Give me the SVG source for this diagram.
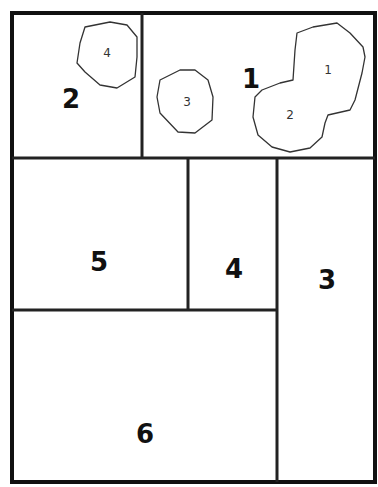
<svg xmlns="http://www.w3.org/2000/svg" width="378" height="487" viewBox="0 0 378 487">
<style>
.frame{fill:none;stroke:#111;stroke-width:4}
.div{fill:none;stroke:#222;stroke-width:3}
.blob{fill:#fff;stroke:#333;stroke-width:1.3;stroke-linejoin:round}
.big{font-family:"DejaVu Sans","Liberation Sans",sans-serif;font-weight:bold;font-size:26px;fill:#111;text-anchor:middle;dominant-baseline:central}
.small{font-family:"DejaVu Sans","Liberation Sans",sans-serif;font-size:12px;fill:#333;text-anchor:middle;dominant-baseline:central}
</style>
<rect width="378" height="487" fill="#fff"/>
<g id="frame">
<rect class="frame" x="12" y="13" width="363" height="469"/>
</g>
<g id="connectors">
<line class="div" x1="12" y1="158" x2="375" y2="158"/>
<line class="div" x1="142" y1="13" x2="142" y2="158"/>
<line class="div" x1="188" y1="158" x2="188" y2="310"/>
<line class="div" x1="277" y1="158" x2="277" y2="482"/>
<line class="div" x1="12" y1="310" x2="277" y2="310"/>
</g>
<g id="region-2">
<text class="big" x="71" y="99">2</text>
</g>
<g id="region-1">
<text class="big" x="251" y="79">1</text>
</g>
<g id="region-5">
<text class="big" x="99" y="262">5</text>
</g>
<g id="region-4">
<text class="big" x="234" y="269">4</text>
</g>
<g id="region-3">
<text class="big" x="327" y="280">3</text>
</g>
<g id="region-6">
<text class="big" x="145" y="434">6</text>
</g>
<g id="island-4">
<polygon class="blob" points="85,27 110,22 127,25 137,37 137,57 135,77 117,88 100,85 85,72 77,63 80,43"/>
<text class="small" x="107" y="53">4</text>
</g>
<g id="island-3">
<polygon class="blob" points="160,80 180,70 195,70 208,80 213,97 212,120 195,133 178,132 160,113 157,97"/>
<text class="small" x="187" y="102">3</text>
</g>
<g id="island-1-2">
<polygon class="blob" points="297,33 313,27 337,23 350,33 363,47 365,57 362,73 355,100 350,110 328,115 325,123 322,137 310,148 290,152 272,147 258,135 253,117 255,97 262,90 280,83 293,80 295,50"/>
<text class="small" x="328" y="70">1</text>
<text class="small" x="290" y="115">2</text>
</g>
</svg>
